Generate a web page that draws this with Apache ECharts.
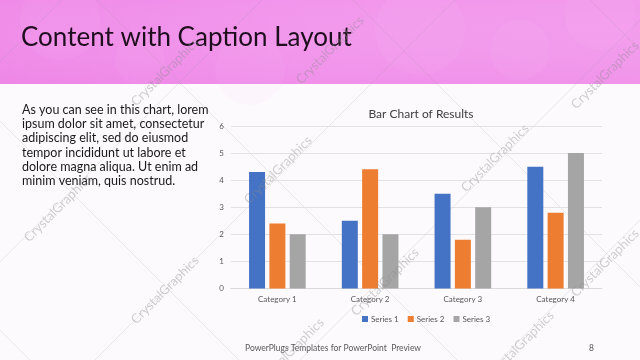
<!DOCTYPE html>
<html>
<head>
<meta charset="utf-8">
<script src="https://cdn.jsdelivr.net/npm/echarts@6/dist/echarts.min.js"></script>
<style>
html,body{margin:0;padding:0;background:#fcfafc;}
#c{width:640px;height:360px;}
</style>
</head>
<body>
<div id="c"></div>
<script>
var categories = ['Category 1', 'Category 2', 'Category 3', 'Category 4'];
var seriesNames = ['Series 1', 'Series 2', 'Series 3'];
var series1 = [4.3, 2.5, 3.5, 4.5];
var series2 = [2.4, 4.4, 1.8, 2.8];
var series3 = [2, 2, 3, 5];
var yTicks = [0, 1, 2, 3, 4, 5, 6];
var slideTitle = 'Content with Caption Layout';
var bodyLines = [
  'As you can see in this chart, lorem',
  'ipsum dolor sit amet, consectetur',
  'adipiscing elit, sed do eiusmod',
  'tempor incididunt ut labore et',
  'dolore magna aliqua. Ut enim ad',
  'minim veniam, quis nostrud.'
];
var chartTitle = 'Bar Chart of Results';
var footerText = 'PowerPlugs Templates for PowerPoint  Preview';
var pageNum = '8';
var watermark = 'CrystalGraphics';

var FONT = 'Lato, "Open Sans", sans-serif';
var colors = ['#4472C4', '#ED7D31', '#A5A5A5'];
var chart = echarts.init(document.getElementById('c'), null, {renderer: 'canvas'});

var graphics = [];
graphics.push({type: 'rect', shape: {x: 0, y: 0, width: 640, height: 360}, style: {fill: '#fcfafc'}, z: -20, silent: true});
graphics.push({type: 'rect', shape: {x: 0, y: 0, width: 640, height: 84},
  style: {fill: new echarts.graphic.LinearGradient(0, 0, 1, 0, [
    {offset: 0, color: '#ef8ae8'}, {offset: 0.5, color: '#f296ec'}, {offset: 1, color: '#f29aec'}])}, z: -19, silent: true});
var blobs = [[60, 20, 40], [250, 70, 35], [420, 30, 45], [520, 50, 30], [600, 15, 35], [140, 60, 25]];
blobs.forEach(function (b) {
  graphics.push({type: 'circle', shape: {cx: b[0], cy: b[1], r: b[2]}, style: {fill: 'rgba(255,200,250,0.08)'}, z: -18, silent: true});
});
graphics.push({type: 'rect', shape: {x: 0, y: 0, width: 640, height: 84},
  style: {fill: new echarts.graphic.LinearGradient(0, 0, 0, 1, [
    {offset: 0, color: 'rgba(255,255,255,0.0)'}, {offset: 1, color: 'rgba(230,110,220,0.15)'}])}, z: -17, silent: true});
var downC = [330, 121, -97, -353, -590];
downC.forEach(function (c) {
  graphics.push({type: 'line', shape: {x1: -50, y1: -50 + c, x2: 700, y2: 700 + c}, style: {stroke: 'rgba(150,150,150,0.18)', lineWidth: 1}, z: -10, silent: true});
});
var upK = [62, 262, 455, 660, 860, 1060];
upK.forEach(function (k) {
  graphics.push({type: 'line', shape: {x1: -50, y1: k + 50, x2: 700, y2: k - 700}, style: {stroke: 'rgba(150,150,150,0.18)', lineWidth: 1}, z: -10, silent: true});
});
var wm = [[165, 72], [330, 50], [605, 75], [58, 208], [165, 290], [278, 170], [495, 158], [385, 282], [605, 263], [290, 352], [520, 345]];
wm.forEach(function (p) {
  graphics.push({type: 'text', x: p[0], y: p[1], rotation: Math.PI / 4,
    style: {text: watermark, font: '13px ' + FONT, fill: 'rgba(140,140,140,0.4)', textAlign: 'center', textVerticalAlign: 'middle'}, z: 50, silent: true});
});
graphics.push({type: 'text', x: 21, y: 38, style: {text: slideTitle, font: '26px ' + FONT, fill: '#1e0e1e', textVerticalAlign: 'middle'}, z: 5});
bodyLines.forEach(function (t, i) {
  graphics.push({type: 'text', x: 22, y: 110 + i * 14.2, style: {text: t, font: '12.5px ' + FONT, fill: '#1a1a1a', textVerticalAlign: 'middle'}, z: 5});
});
graphics.push({type: 'text', x: 245, y: 348, style: {text: footerText, font: '8.5px ' + FONT, fill: '#595959', textVerticalAlign: 'middle'}, z: 5});
graphics.push({type: 'text', x: 589, y: 348, style: {text: pageNum, font: '8.5px ' + FONT, fill: '#595959', textVerticalAlign: 'middle'}, z: 5});

var seriesData = [series1, series2, series3];
var option = {
  animation: false,
  backgroundColor: 'transparent',
  color: colors,
  title: {text: chartTitle, left: 416, top: 103, textAlign: 'center',
    textStyle: {fontFamily: FONT, fontSize: 12, fontWeight: 'normal', color: '#404040'}},
  legend: {data: seriesNames, left: 357, top: 310, itemWidth: 6, itemHeight: 6, itemGap: 9, icon: 'rect',
    textStyle: {fontFamily: FONT, fontSize: 8, color: '#595959', padding: [0, 0, 0, -2]}},
  grid: {left: 231, right: 38, top: 126, bottom: 71.5, containLabel: false},
  xAxis: {type: 'category', data: categories,
    axisLine: {lineStyle: {color: '#d9d9d9'}}, axisTick: {show: false},
    axisLabel: {fontFamily: FONT, fontSize: 8, color: '#595959', margin: 7}},
  yAxis: {type: 'value', min: yTicks[0], max: yTicks[yTicks.length - 1], interval: 1,
    axisLine: {show: false}, axisTick: {show: false},
    splitLine: {lineStyle: {color: '#e3e1e3'}},
    axisLabel: {fontFamily: FONT, fontSize: 8, color: '#595959', margin: 7}},
  series: seriesNames.map(function (n, i) {
    return {name: n, type: 'bar', data: seriesData[i], barWidth: 16, barGap: '27%', z: 3};
  }),
  graphic: graphics
};
chart.setOption(option);
</script>
</body>
</html>
